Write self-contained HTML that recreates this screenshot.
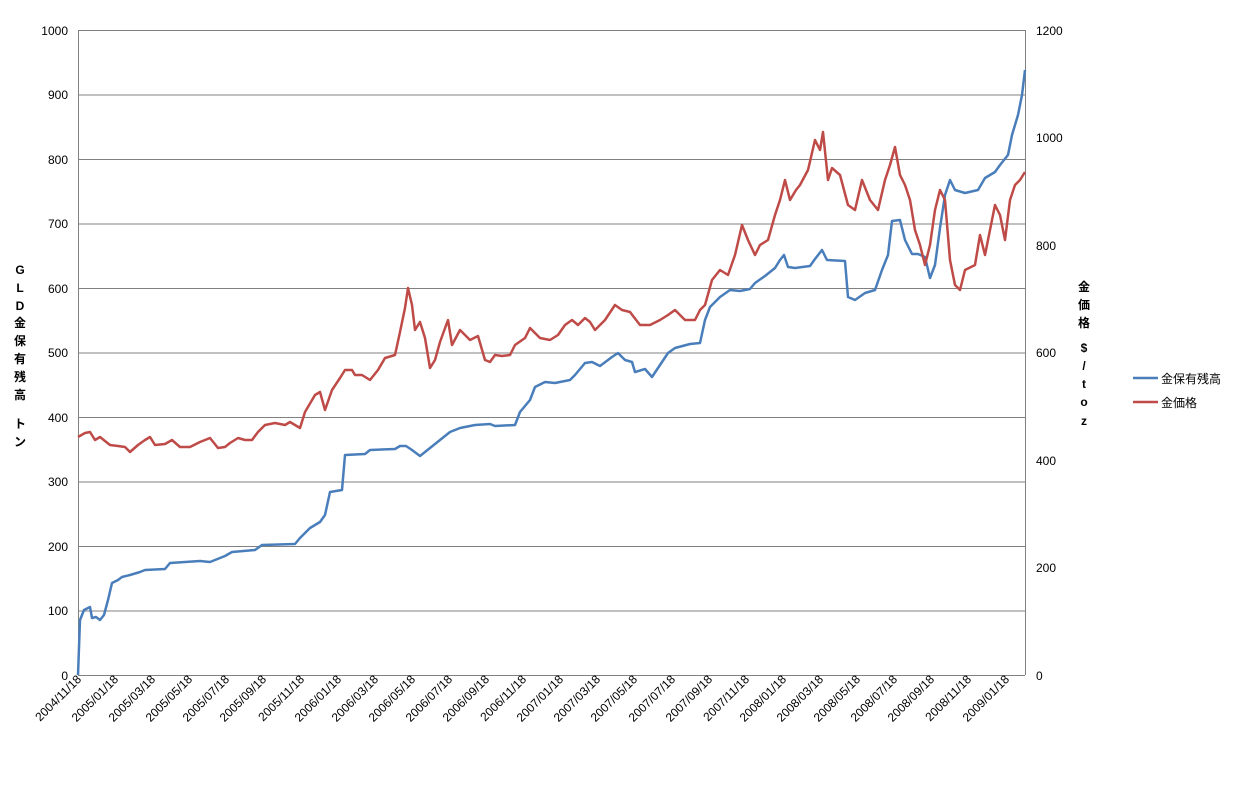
<!DOCTYPE html>
<html><head><meta charset="utf-8"><style>
body{margin:0;background:#fff;}
svg text{font-family:"Liberation Sans","Noto Sans CJK JP",sans-serif;font-size:12px;fill:#000;}
</style></head><body>
<svg width="1240" height="782" viewBox="0 0 1240 782" xmlns="http://www.w3.org/2000/svg">
<rect width="1240" height="782" fill="#fff"/>
<g stroke="#808080" stroke-width="1">
<line x1="78" y1="30.5" x2="1025" y2="30.5"/>
<line x1="78" y1="95" x2="1025" y2="95"/>
<line x1="78" y1="159.5" x2="1025" y2="159.5"/>
<line x1="78" y1="224" x2="1025" y2="224"/>
<line x1="78" y1="288.5" x2="1025" y2="288.5"/>
<line x1="78" y1="353" x2="1025" y2="353"/>
<line x1="78" y1="417.5" x2="1025" y2="417.5"/>
<line x1="78" y1="482" x2="1025" y2="482"/>
<line x1="78" y1="546.5" x2="1025" y2="546.5"/>
<line x1="78" y1="611" x2="1025" y2="611"/>
<line x1="78.5" y1="30" x2="78.5" y2="675"/>
<line x1="1025.5" y1="30" x2="1025.5" y2="675"/>
<line x1="78" y1="675.5" x2="1025" y2="675.5"/>
</g>
<g text-anchor="end">
<text x="68" y="35">1000</text><text x="68" y="99">900</text><text x="68" y="164">800</text><text x="68" y="228">700</text><text x="68" y="293">600</text><text x="68" y="357">500</text><text x="68" y="422">400</text><text x="68" y="486">300</text><text x="68" y="551">200</text><text x="68" y="615">100</text><text x="68" y="680">0</text>
</g>
<g>
<text x="1036" y="35">1200</text><text x="1036" y="142">1000</text><text x="1036" y="250">800</text><text x="1036" y="357">600</text><text x="1036" y="465">400</text><text x="1036" y="572">200</text><text x="1036" y="680">0</text>
</g>
<g text-anchor="middle">
<text x="20" y="274" font-weight="bold">G</text><text x="20" y="292" font-weight="bold">L</text><text x="20" y="310" font-weight="bold">D</text><text x="20" y="327" font-weight="bold">金</text><text x="20" y="345" font-weight="bold">保</text><text x="20" y="363" font-weight="bold">有</text><text x="20" y="381" font-weight="bold">残</text><text x="20" y="399" font-weight="bold">高</text><text x="20" y="428" font-weight="bold">ト</text><text x="20" y="446" font-weight="bold">ン</text>
<text x="1084" y="291" font-weight="bold">金</text><text x="1084" y="309" font-weight="bold">価</text><text x="1084" y="327" font-weight="bold">格</text><text x="1084" y="352" font-weight="bold">$</text><text x="1084" y="370" font-weight="bold">/</text><text x="1084" y="388" font-weight="bold">t</text><text x="1084" y="406" font-weight="bold">o</text><text x="1084" y="425" font-weight="bold">z</text>
</g>
<g text-anchor="end">
<text transform="translate(82,680) rotate(-45)">2004/11/18</text>
<text transform="translate(119,680) rotate(-45)">2005/01/18</text>
<text transform="translate(156,680) rotate(-45)">2005/03/18</text>
<text transform="translate(193,680) rotate(-45)">2005/05/18</text>
<text transform="translate(230,680) rotate(-45)">2005/07/18</text>
<text transform="translate(267,680) rotate(-45)">2005/09/18</text>
<text transform="translate(305,680) rotate(-45)">2005/11/18</text>
<text transform="translate(342,680) rotate(-45)">2006/01/18</text>
<text transform="translate(379,680) rotate(-45)">2006/03/18</text>
<text transform="translate(416,680) rotate(-45)">2006/05/18</text>
<text transform="translate(453,680) rotate(-45)">2006/07/18</text>
<text transform="translate(490,680) rotate(-45)">2006/09/18</text>
<text transform="translate(527,680) rotate(-45)">2006/11/18</text>
<text transform="translate(564,680) rotate(-45)">2007/01/18</text>
<text transform="translate(601,680) rotate(-45)">2007/03/18</text>
<text transform="translate(638,680) rotate(-45)">2007/05/18</text>
<text transform="translate(676,680) rotate(-45)">2007/07/18</text>
<text transform="translate(713,680) rotate(-45)">2007/09/18</text>
<text transform="translate(750,680) rotate(-45)">2007/11/18</text>
<text transform="translate(787,680) rotate(-45)">2008/01/18</text>
<text transform="translate(824,680) rotate(-45)">2008/03/18</text>
<text transform="translate(861,680) rotate(-45)">2008/05/18</text>
<text transform="translate(898,680) rotate(-45)">2008/07/18</text>
<text transform="translate(935,680) rotate(-45)">2008/09/18</text>
<text transform="translate(972,680) rotate(-45)">2008/11/18</text>
<text transform="translate(1010,680) rotate(-45)">2009/01/18</text>
</g>
<polyline fill="none" stroke="#4a7ebb" stroke-width="2.5" stroke-linejoin="round" points="78,675 80,620 84,610 90,607 92,618 96,617 100,620 104,615 108,600 112,583 118,580 122,577 130,575 140,572 145,570 165,569 170,563 200,561 210,562 215,560 225,556 232,552 255,550 262,545 295,544 300,538 310,528 320,522 325,515 330,492 342,490 345,455 365,454 370,450 395,449 400,446 406,446 412,450 420,456 430,448 440,440 450,432 460,428 465,427 475,425 490,424 495,426 515,425 520,412 530,400 535,387 545,382 555,383 570,380 575,375 585,363 592,362 600,366 612,357 618,353 625,360 632,362 635,372 645,369 652,377 660,365 668,353 675,348 690,344 700,343 705,320 710,307 720,297 730,290 740,291 750,289 755,283 765,276 775,268 780,260 784,255 788,267 795,268 810,266 815,259 822,250 827,260 845,261 848,297 855,300 865,293 875,290 882,270 888,255 892,221 900,220 905,240 912,254 918,254 925,257 930,278 935,265 940,228 945,195 950,180 955,190 965,193 978,190 985,178 995,172 1000,165 1008,155 1012,135 1018,115 1022,95 1025,70"/>
<polyline fill="none" stroke="#be4b48" stroke-width="2.5" stroke-linejoin="round" points="78,437 85,433 90,432 95,440 100,437 110,445 118,446 125,447 130,452 138,445 145,440 150,437 155,445 165,444 172,440 180,447 190,447 200,442 210,438 218,448 225,447 230,443 238,438 245,440 252,440 258,432 265,425 275,423 285,425 290,422 300,428 305,412 315,395 320,392 325,410 332,390 340,378 345,370 352,370 355,375 362,375 370,380 378,370 385,358 395,355 400,332 405,308 408,288 412,305 415,330 420,322 425,338 430,368 435,360 440,342 448,320 452,345 460,330 470,340 478,336 485,360 490,362 495,355 502,356 510,355 515,345 525,338 530,328 540,338 550,340 558,335 565,325 572,320 578,325 585,318 590,322 595,330 605,320 615,305 622,310 630,312 640,325 650,325 660,320 668,315 675,310 685,320 695,320 700,310 705,305 712,280 720,270 728,275 735,255 742,225 748,240 755,255 760,245 768,240 775,215 780,200 785,180 790,200 796,190 800,185 808,170 815,140 820,150 823,132 828,180 832,168 840,175 848,205 855,210 862,180 870,200 878,210 885,180 890,165 895,147 900,175 905,185 910,200 915,230 920,245 925,265 930,245 935,210 940,190 945,200 950,260 955,285 960,290 965,270 975,265 980,235 985,255 990,230 995,205 1000,215 1005,240 1010,200 1015,185 1020,180 1025,172"/>
<line x1="1133" y1="378" x2="1158" y2="378" stroke="#4a7ebb" stroke-width="2.5"/>
<line x1="1133" y1="402" x2="1158" y2="402" stroke="#be4b48" stroke-width="2.5"/>
<text x="1161" y="383">金保有残高</text>
<text x="1161" y="407">金価格</text>
</svg>
</body></html>
